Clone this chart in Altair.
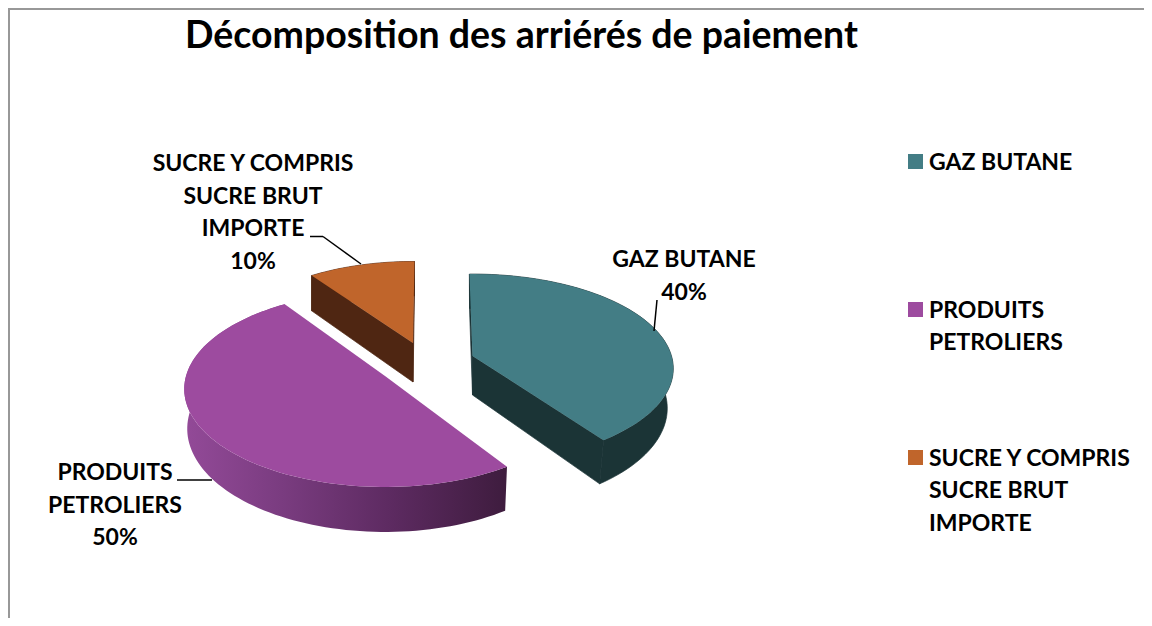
import math
import altair as alt
import pandas as pd

TITLE = "Décomposition des arriérés de paiement"
CATEGORIES = ["GAZ BUTANE", "PRODUITS PETROLIERS", "SUCRE Y COMPRIS SUCRE BRUT IMPORTE"]
SHARES = [40, 50, 10]
COLORS = ["#437d85", "#9d4b9f", "#c0652b"]
WALLS = ["#1b3436", "#6a3070", "#4f2612"]
PURPLE_STOPS = ["#934a98", "#7a3c80", "#5c2a60", "#3e1c3e"]
LEGEND_LINES = ["GAZ BUTANE", "PRODUITS|PETROLIERS", "SUCRE Y COMPRIS|SUCRE BRUT|IMPORTE"]
LABEL_LINES = ["GAZ BUTANE|40%", "PRODUITS|PETROLIERS|50%", "SUCRE Y COMPRIS|SUCRE BRUT|IMPORTE|10%"]

# exploded slice placement and perspective projection (page pixels)
APEX = [(472.5, 356), (385, 376), (413, 343)]
TURN_START = [-1, 3, 0]
TURN_END = [0, 2, 0.5]
SCALE_X = [1.0, 1.0, 0.96]
SCALE_Y = [0.965, 1.0, 0.96]
LEAN = [0.97, 0.985, 1.0]
RX, RY, K, DEPTH = 199.0, 96.2, 0.133, 39.0
W, H = 1136, 610

x_scale = alt.Scale(domain=[8, 8 + W], range=[0, W])
y_scale = alt.Scale(domain=[8, 8 + H], range=[0, H])


def project(i, deg, r=1.0, low=False):
    a = math.radians(deg)
    u, v = r * math.sin(a), -r * math.cos(a)
    d = 1 - K * v
    x = SCALE_X[i] * RX * u / d
    y = APEX[i][1] + SCALE_Y[i] * RY * v / d
    if low:
        y += DEPTH / d
        x *= LEAN[i]
    return APEX[i][0] + x, y


def polygon(points, fill, edge=None):
    df = pd.DataFrame(points, columns=["x", "y"])
    df["i"] = range(len(df))
    style = {"stroke": edge, "strokeWidth": 0.7} if edge else {"strokeWidth": 0}
    return alt.Chart(df).mark_line(fill=fill, interpolate="linear-closed", clip=False, **style).encode(
        x=alt.X("x:Q", scale=x_scale, axis=None),
        y=alt.Y("y:Q", scale=y_scale, axis=None),
        order="i:Q",
    )


layers = []
start = 0.0
for i, share in enumerate(SHARES):
    a0 = start + TURN_START[i]
    start += share * 3.6
    a1 = start + TURN_END[i]
    n = max(8, int(share * 2))
    angles = [a0 + (a1 - a0) * k / n for k in range(n + 1)]
    top_arc = [project(i, a) for a in angles]
    low_arc = [project(i, a, low=True) for a in reversed(angles)]
    centre, centre_low = project(i, 0, 0), project(i, 0, 0, low=True)
    if i == 1:
        wall_fill = alt.Gradient(
            gradient="linear", x1=0, x2=1, y1=0, y2=0,
            stops=[alt.GradientStop(offset=o, color=c) for o, c in zip([0, 0.3, 0.65, 1], PURPLE_STOPS)],
        )
        layers.append(polygon(top_arc + low_arc, wall_fill))
    else:
        layers.append(polygon(top_arc + low_arc, WALLS[i], WALLS[i]))
        layers.append(polygon([centre, project(i, a0), project(i, a0, low=True), centre_low], WALLS[i], WALLS[i]))
        layers.append(polygon([centre, project(i, a1), project(i, a1, low=True), centre_low], WALLS[i], WALLS[i]))
    layers.append(polygon([centre] + top_arc, COLORS[i]))


def px(v):
    return alt.value(v - 8)


def segment(x0, y0, x1, y1, color="black", width=1.5):
    base = alt.Chart(pd.DataFrame({"a": [0]})).mark_rule(color=color, strokeWidth=width, clip=False)
    return base.encode(x=px(x0), x2=px(x1), y=px(y0), y2=px(y1))


def label(text, x, y, align):
    data = pd.DataFrame({"t": [text]})
    return alt.Chart(data).mark_text(
        font="Lato", fontWeight="bold", fontSize=23, lineHeight=32.5, lineBreak="|",
        align=align, baseline="alphabetic", color="black", clip=False,
    ).encode(text="t:N", x=px(x), y=px(y))


# frame
layers += [segment(8, 8, 1144, 8, "#989898", 4), segment(8, 8, 8, 618, "#989898", 4)]
# leaders
layers += [
    segment(310, 236.5, 323, 236.5), segment(323, 236.5, 361, 264),
    segment(657, 300, 654, 331), segment(177, 480, 212, 480),
]
# data labels
for text, x, y in zip(LABEL_LINES, [684, 115, 253], [267, 480, 171]):
    layers.append(label(text, x, y, "center"))
# legend
for text, color, y in zip(LEGEND_LINES, COLORS, [161.5, 309.5, 457.5]):
    sq = alt.Chart(pd.DataFrame({"a": [0]})).mark_square(size=225, color=color, opacity=1, clip=False)
    layers.append(sq.encode(x=px(915.5), y=px(y)))
    layers.append(label(text, 929, y + 8, "left"))

chart = alt.layer(*layers).properties(
    width=W, height=H, padding=0,
    autosize=alt.AutoSizeParams(type="none"),
    title=alt.TitleParams(TITLE, anchor="start", frame="group", font="Lato", fontWeight="bold",
                          fontSize=37.5, color="black", baseline="alphabetic", dx=177, dy=79, offset=0),
).configure_view(stroke=None)

chart.save("out.html", embed_options={"renderer": "svg", "actions": False})
